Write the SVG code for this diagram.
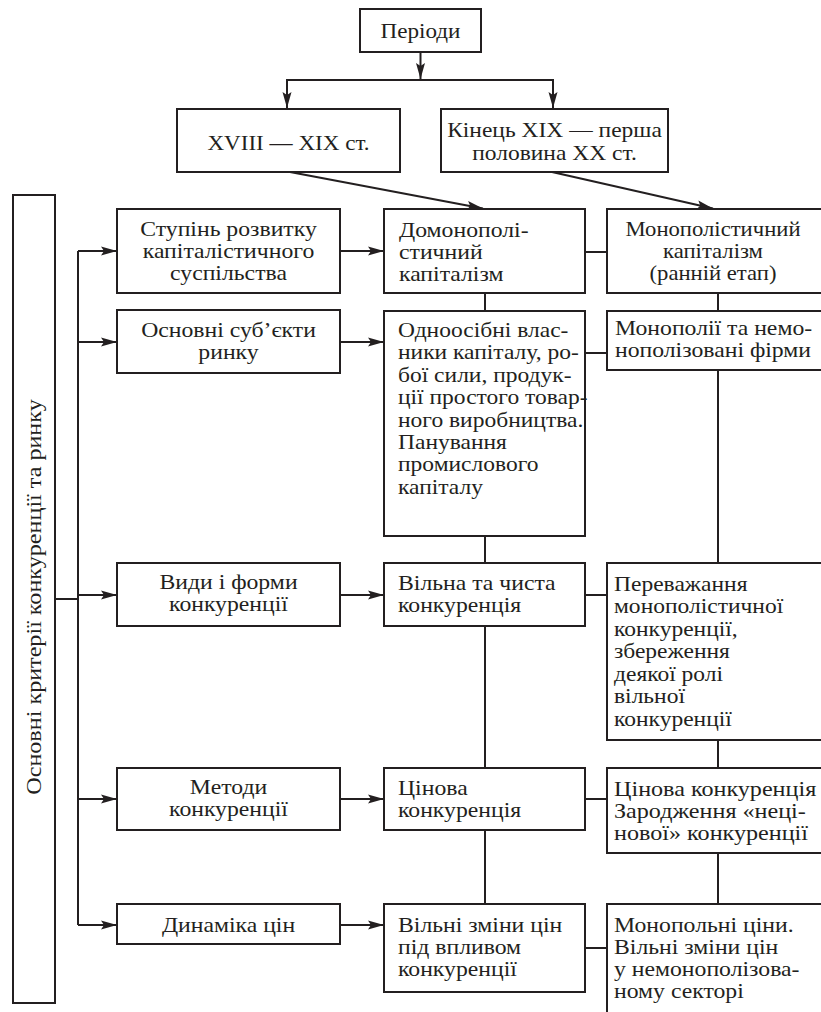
<svg xmlns="http://www.w3.org/2000/svg" width="821" height="1012" viewBox="0 0 821 1012">
<defs>
<style>
.b{fill:#fff;stroke:#231f20;stroke-width:2}
.c{fill:none;stroke:#231f20;stroke-width:2}
.t{font-family:'Liberation Serif','Times New Roman',serif;font-size:21px;fill:#231f20}
.m{text-anchor:middle}
</style>
<marker id="ah" markerUnits="userSpaceOnUse" markerWidth="17" markerHeight="10" refX="16" refY="5" orient="auto">
<path d="M0,0.5 L16,5 L0,9.5 L3,5 z" fill="#231f20"/>
</marker>
</defs>
<rect width="821" height="1012" fill="#fff"/>
<g id="connectors">
<line class="c" x1="420.5" y1="52" x2="420.5" y2="79" marker-end="url(#ah)"/>
<polyline class="c" points="287,108 287,80 553,80 553,108"/>
<line class="c" x1="287" y1="94" x2="287" y2="108" marker-end="url(#ah)"/>
<line class="c" x1="553" y1="94" x2="553" y2="108" marker-end="url(#ah)"/>
<line class="c" x1="290" y1="172" x2="483" y2="208.5" marker-end="url(#ah)"/>
<line class="c" x1="552" y1="172" x2="713" y2="208.5" marker-end="url(#ah)"/>
<line class="c" x1="55" y1="599" x2="78" y2="599"/>
<line class="c" x1="78" y1="251" x2="78" y2="925"/>
<line class="c" x1="78" y1="251" x2="117" y2="251" marker-end="url(#ah)"/>
<line class="c" x1="78" y1="342" x2="117" y2="342" marker-end="url(#ah)"/>
<line class="c" x1="78" y1="595" x2="117" y2="595" marker-end="url(#ah)"/>
<line class="c" x1="78" y1="799" x2="117" y2="799" marker-end="url(#ah)"/>
<line class="c" x1="78" y1="925" x2="117" y2="925" marker-end="url(#ah)"/>
<line class="c" x1="340" y1="251" x2="384" y2="251" marker-end="url(#ah)"/>
<line class="c" x1="340" y1="342" x2="384" y2="342" marker-end="url(#ah)"/>
<line class="c" x1="340" y1="595" x2="384" y2="595" marker-end="url(#ah)"/>
<line class="c" x1="340" y1="799" x2="384" y2="799" marker-end="url(#ah)"/>
<line class="c" x1="340" y1="925" x2="384" y2="925" marker-end="url(#ah)"/>
<line class="c" x1="585" y1="252" x2="607" y2="252"/>
<line class="c" x1="585" y1="353" x2="607" y2="353"/>
<line class="c" x1="585" y1="595" x2="607" y2="595"/>
<line class="c" x1="585" y1="799" x2="607" y2="799"/>
<line class="c" x1="585" y1="948" x2="607" y2="948"/>
<line class="c" x1="485" y1="293" x2="485" y2="311"/>
<line class="c" x1="485" y1="536" x2="485" y2="563"/>
<line class="c" x1="485" y1="626" x2="485" y2="768"/>
<line class="c" x1="485" y1="830" x2="485" y2="904"/>
<line class="c" x1="718" y1="293" x2="718" y2="311"/>
<line class="c" x1="718" y1="370" x2="718" y2="563"/>
<line class="c" x1="718" y1="740" x2="718" y2="768"/>
<line class="c" x1="718" y1="853" x2="718" y2="904"/>
</g>
<g id="periods">
<rect class="b" x="360" y="9" width="121" height="43"/>
<g transform="translate(420.5,0) scale(1.1,1)"><text class="t m" x="0" y="38">Періоди</text></g>
</g>
<g id="p1">
<rect class="b" x="177" y="109" width="223" height="63"/>
<g transform="translate(288.5,0) scale(1.1,1)"><text class="t m" x="0" y="150">XVIII — XIX ст.</text></g>
</g>
<g id="p2">
<rect class="b" x="441" y="109" width="227" height="63"/>
<g transform="translate(554.5,0) scale(1.12,1)">
<text class="t m" x="0" y="137">Кінець XIX — перша</text>
<text class="t m" x="0" y="160">половина XX ст.</text>
</g>
</g>
<g id="criteria">
<rect class="b" x="13" y="195" width="42" height="808"/>
<text class="t m" transform="translate(41,597) rotate(-90) scale(1.15,1)">Основні критерії конкуренції та ринку</text>
</g>
<g id="c1">
<rect class="b" x="117" y="209" width="223" height="84"/>
<g transform="translate(228.5,0) scale(1.13,1)">
<text class="t m" x="0" y="236">Ступінь розвитку</text>
<text class="t m" x="0" y="258">капіталістичного</text>
<text class="t m" x="0" y="280">суспільства</text>
</g>
</g>
<g id="c2">
<rect class="b" x="117" y="310" width="223" height="63"/>
<g transform="translate(228.5,0) scale(1.13,1)">
<text class="t m" x="0" y="337">Основні суб’єкти</text>
<text class="t m" x="0" y="359">ринку</text>
</g>
</g>
<g id="c3">
<rect class="b" x="117" y="563" width="223" height="63"/>
<g transform="translate(228.5,0) scale(1.13,1)">
<text class="t m" x="0" y="589">Види і форми</text>
<text class="t m" x="0" y="611">конкуренції</text>
</g>
</g>
<g id="c4">
<rect class="b" x="117" y="768" width="223" height="62"/>
<g transform="translate(228.5,0) scale(1.13,1)">
<text class="t m" x="0" y="794">Методи</text>
<text class="t m" x="0" y="816">конкуренції</text>
</g>
</g>
<g id="c5">
<rect class="b" x="117" y="904" width="223" height="40"/>
<g transform="translate(228.5,0) scale(1.13,1)">
<text class="t m" x="0" y="932">Динаміка цін</text>
</g>
</g>
<g id="a1">
<rect class="b" x="384" y="209" width="201" height="84"/>
<g transform="translate(399,0) scale(1.13,1)">
<text class="t" x="0" y="237">Домонополі-</text>
<text class="t" x="0" y="259">стичний</text>
<text class="t" x="0" y="281">капіталізм</text>
</g>
</g>
<g id="a2">
<rect class="b" x="384" y="311" width="201" height="225"/>
<g transform="translate(398,0) scale(1.12,1)">
<text class="t" x="0" y="337">Одноосібні влас-</text>
<text class="t" x="0" y="359.4">ники капіталу, ро-</text>
<text class="t" x="0" y="381.8">бої сили, продук-</text>
<text class="t" x="0" y="404.2">ції простого товар-</text>
<text class="t" x="0" y="426.6">ного виробництва.</text>
<text class="t" x="0" y="449">Панування</text>
<text class="t" x="0" y="471.4">промислового</text>
<text class="t" x="0" y="493.8">капіталу</text>
</g>
</g>
<g id="a3">
<rect class="b" x="384" y="563" width="201" height="63"/>
<g transform="translate(398,0) scale(1.13,1)">
<text class="t" x="0" y="590">Вільна та чиста</text>
<text class="t" x="0" y="612">конкуренція</text>
</g>
</g>
<g id="a4">
<rect class="b" x="384" y="768" width="201" height="62"/>
<g transform="translate(398,0) scale(1.13,1)">
<text class="t" x="0" y="795">Цінова</text>
<text class="t" x="0" y="817">конкуренція</text>
</g>
</g>
<g id="a5">
<rect class="b" x="384" y="904" width="201" height="88"/>
<g transform="translate(398,0) scale(1.13,1)">
<text class="t" x="0" y="932">Вільні зміни цін</text>
<text class="t" x="0" y="954">під впливом</text>
<text class="t" x="0" y="976">конкуренції</text>
</g>
</g>
<g id="b1">
<rect class="b" x="607" y="209" width="216" height="84"/>
<g transform="translate(713,0) scale(1.08,1)">
<text class="t m" x="0" y="236">Монополістичний</text>
<text class="t m" x="0" y="258">капіталізм</text>
<text class="t m" x="0" y="280">(ранній етап)</text>
</g>
</g>
<g id="b2">
<rect class="b" x="607" y="311" width="216" height="59"/>
<g transform="translate(615,0) scale(1.13,1)">
<text class="t" x="0" y="335">Монополії та немо-</text>
<text class="t" x="0" y="357">нополізовані фірми</text>
</g>
</g>
<g id="b3">
<rect class="b" x="607" y="563" width="216" height="177"/>
<g transform="translate(614,0) scale(1.12,1)">
<text class="t" x="0" y="591">Переважання</text>
<text class="t" x="0" y="613.5">монополістичної</text>
<text class="t" x="0" y="636">конкуренції,</text>
<text class="t" x="0" y="658.5">збереження</text>
<text class="t" x="0" y="681">деякої ролі</text>
<text class="t" x="0" y="703.5">вільної</text>
<text class="t" x="0" y="726">конкуренції</text>
</g>
</g>
<g id="b4">
<rect class="b" x="607" y="768" width="216" height="85"/>
<g transform="translate(614,0) scale(1.15,1)">
<text class="t" x="0" y="796">Цінова конкуренція</text>
<text class="t" x="0" y="818">Зародження «неці-</text>
<text class="t" x="0" y="840">нової» конкуренції</text>
</g>
</g>
<g id="b5">
<rect class="b" x="607" y="904" width="216" height="120"/>
<g transform="translate(614,0) scale(1.13,1)">
<text class="t" x="0" y="932">Монопольні ціни.</text>
<text class="t" x="0" y="954">Вільні зміни цін</text>
<text class="t" x="0" y="976">у немонополізова-</text>
<text class="t" x="0" y="998">ному секторі</text>
</g>
</g>
</svg>
